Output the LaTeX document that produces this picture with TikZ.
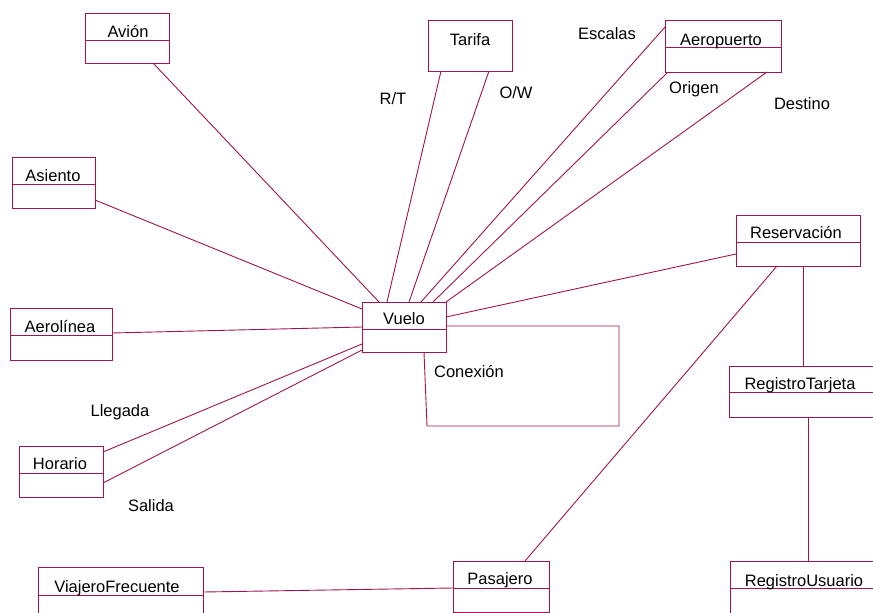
\documentclass[tikz,border=0pt]{standalone}
\usepackage{fontspec}
\setmainfont{Liberation Sans}
\definecolor{umlred}{RGB}{163,20,78}
\tikzset{
  classbox/.style={draw=umlred, line width=0.9pt, rectangle, inner sep=0pt, outer sep=0pt},
  umlline/.style={draw=umlred, line width=0.9pt},
  lbl/.style={anchor=base, inner sep=0pt, font=\fontsize{16.5}{19}\selectfont, text=black},
}
\newcommand\umlclass[9]{%
  \node[classbox, minimum width={#4-#2}, minimum height={#5-#3}] (#1) at ({(#2+#4)/2},{(#3+#5)/2}) {};
  \draw[umlline] (#1.west |- 0,#6) -- (#1.east |- 0,#6);
  \node[lbl] (#1-name) at (#7,#8) {#9};
}
\begin{document}
\begin{tikzpicture}[x=1pt,y=-1pt]
\clip (0,0) rectangle (873,613);
\fill[white] (0,0) rectangle (873,613);
% classes
\umlclass{avion}{85}{13}{169}{63}{40}{128}{37}{Avión}
\umlclass{asiento}{12}{157}{95}{208}{184}{53}{181}{Asiento}
\node[classbox, minimum width=84, minimum height=51] (tarifa) at (470,45.5) {};
\node[lbl] (tarifa-name) at (470,45) {Tarifa};
\umlclass{aeropuerto}{665}{20}{781}{72}{47}{721}{45}{Aeropuerto}
\umlclass{aerolinea}{10}{308}{112}{360}{335}{60}{332}{Aerolínea}
\umlclass{horario}{19}{446}{103}{497}{473}{60}{469}{Horario}
\umlclass{viajero}{38}{567}{203}{625}{595}{117}{592}{ViajeroFrecuente}
\umlclass{vuelo}{362}{302}{446}{352}{329}{404}{324}{Vuelo}
\umlclass{reservacion}{736}{215}{860}{266}{242}{796}{238}{Reservación}
\umlclass{tarjeta}{729}{366}{890}{417}{392}{800}{389}{RegistroTarjeta}
\umlclass{usuario}{730}{561}{890}{625}{588}{804}{586}{RegistroUsuario}
\umlclass{pasajero}{453}{561}{549}{612}{588}{500}{584}{Pasajero}
% associations
\draw[umlline] (avion.south -| 153,0) -- (vuelo.north -| 379,0);
\draw[umlline] (asiento.east |- 0,200) -- (vuelo.west |- 0,309);
\draw[umlline] (tarifa.south -| 441,0) -- (vuelo.north -| 387,0);
\draw[umlline] (tarifa.south -| 489,0) -- (vuelo.north -| 409,0);
\draw[umlline] (aeropuerto.west |- 0,27) -- (vuelo.north -| 421,0);
\draw[umlline] (aeropuerto.south -| 668,0) -- (vuelo.north -| 433,0);
\draw[umlline] (aeropuerto.south -| 767,0) -- (vuelo.north east);
\draw[umlline] (vuelo.east |- 0,317) -- (reservacion.west |- 0,254);
\draw[umlline] (aerolinea.east |- 0,333) -- (vuelo.west |- 0,327);
\draw[umlline] (horario.east |- 0,452) -- (vuelo.west |- 0,344);
\draw[umlline] (horario.east |- 0,483) -- (vuelo.west |- 0,350);
\draw[umlline] (reservacion.south -| 777,0) -- (pasajero.north -| 525,0);
\draw[umlline] (viajero.east |- 0,592) -- (pasajero.west |- 0,588);
\draw[umlline] (reservacion.south -| 803,0) -- (tarjeta.north -| 803,0);
\draw[umlline] (tarjeta.south -| 808,0) -- (usuario.north -| 808,0);
% self association
\coordinate (loopA) at (619,326);
\coordinate (loopB) at (619,426);
\coordinate (loopC) at (427,426);
\draw[umlline] (vuelo.east |- loopA) -- (loopA) -- (loopB) -- (loopC) -- (vuelo.south -| 424,0);
% role labels
\node[lbl] (escalas) at (607,39) {Escalas};
\node[lbl] (origen) at (694,93) {Origen};
\node[lbl] (destino) at (802,109) {Destino};
\node[lbl] (rt) at (393,104) {R/T};
\node[lbl] (ow) at (516,98) {O/W};
\node[lbl] (llegada) at (120,416) {Llegada};
\node[lbl] (salida) at (151,511) {Salida};
\node[lbl] (conexion) at (469,377) {Conexión};
\end{tikzpicture}
\end{document}
